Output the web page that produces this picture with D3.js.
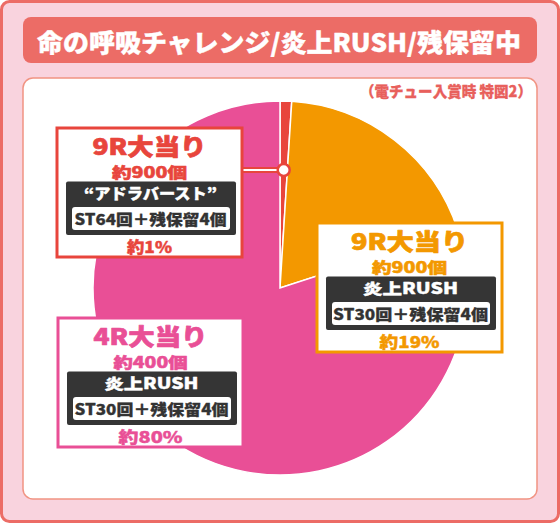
<!DOCTYPE html>
<html>
<head>
<meta charset="utf-8">
<script src="https://cdn.jsdelivr.net/npm/d3@7"></script>
<style>
  html, body { margin: 0; padding: 0; background: #fff; }
  svg { display: block; }
  text { font-family: "Noto Sans CJK JP", "Noto Sans", sans-serif; font-weight: 900; }
</style>
</head>
<body>
<svg id="chart" width="560" height="523"></svg>
<script>
// ---- data ----
const chartTitle = "命の呼吸チャレンジ/炎上RUSH/残保留中";
const chartSubtitle = "（電チュー入賞時 特図2）";
const categories = ["9R大当り", "9R大当り", "4R大当り"];
const shares = [1, 19, 80];
const payouts = ["約900個", "約900個", "約400個"];
const modes = ["“アドラバースト”", "炎上RUSH", "炎上RUSH"];
const stLabels = ["ST64回＋残保留4個", "ST30回＋残保留4個", "ST30回＋残保留4個"];
const colors = ["#e8453c", "#f39800", "#e94f96"];

// ---- layout (not data) ----
const W = 560, H = 523;
const cx = 280, cy = 288, R = 187;
const boxes = [
  { x: 57, y: 128, w: { title: 114, pay: 75, mode: 133, st: 152, pct: 45 } },
  { x: 317, y: 223, w: { title: 117, pay: 75, mode: 95, st: 155, pct: 60 } },
  { x: 58, y: 318, w: { title: 114, pay: 74, mode: 94, st: 154, pct: 64 } }
];
const boxW = 185, boxH = 129;

const svg = d3.select("#chart");

function label(sel, x, y, size, fill, str, len, strokeW) {
  const t = sel.append("text").attr("x", x).attr("y", y).attr("text-anchor", "middle")
    .attr("font-size", size).attr("fill", fill).text(str);
  if (len) t.attr("textLength", len).attr("lengthAdjust", "spacingAndGlyphs");
  if (strokeW) t.attr("stroke", fill).attr("stroke-width", strokeW).attr("stroke-linejoin", "round");
  return t;
}

// outer frame
svg.append("rect").attr("x", 1.5).attr("y", 1.5).attr("width", W - 3).attr("height", H - 3)
  .attr("rx", 8).attr("fill", "#f9d3de").attr("stroke", "#ec6c66").attr("stroke-width", 3);

// title bar
svg.append("rect").attr("x", 23).attr("y", 17).attr("width", 514).attr("height", 46)
  .attr("rx", 8).attr("fill", "#ec6c66");
label(svg, 279, 52, 25, "#fff", chartTitle, 484, 0.4);

// inner panel
svg.append("rect").attr("x", 23).attr("y", 78).attr("width", 514).attr("height", 421)
  .attr("rx", 10).attr("fill", "#fff").attr("stroke", "#f19483").attr("stroke-width", 1.5);

label(svg, 446, 97, 15, "#e8605c", chartSubtitle, 172, 0.3);

// pie
const pie = d3.pie().sort(null).value(d => d)(shares);
const arc = d3.arc().innerRadius(0).outerRadius(R);
const g = svg.append("g").attr("transform", `translate(${cx},${cy})`);
g.selectAll("path").data(pie).join("path")
  .attr("d", arc)
  .attr("fill", (d, i) => colors[i])
  .attr("stroke", "#fff").attr("stroke-width", 1.5);

// connector for the small slice
const small = pie[0];
const midA = (small.startAngle + small.endAngle) / 2;
const connY = 170;
const connX = cx + (cy - connY) * Math.tan(midA);
svg.append("line").attr("x1", boxes[0].x + boxW).attr("y1", connY).attr("x2", connX).attr("y2", connY)
  .attr("stroke", colors[0]).attr("stroke-width", 6);
svg.append("line").attr("x1", boxes[0].x + boxW).attr("y1", connY).attr("x2", connX).attr("y2", connY)
  .attr("stroke", "#fff").attr("stroke-width", 2);
svg.append("circle").attr("cx", connX).attr("cy", connY).attr("r", 6)
  .attr("fill", "#fff").attr("stroke", colors[0]).attr("stroke-width", 2.5);

// label boxes
boxes.forEach((b, i) => {
  const gb = svg.append("g").attr("transform", `translate(${b.x},${b.y})`);
  const mid = boxW / 2;
  gb.append("rect").attr("x", 0).attr("y", 0).attr("width", boxW).attr("height", boxH)
    .attr("fill", "#fff").attr("stroke", colors[i]).attr("stroke-width", 3);
  label(gb, mid, 26.5, 23, colors[i], categories[i], b.w.title, 0.7);
  label(gb, mid, 50.3, 15, colors[i], payouts[i], b.w.pay, 0.5);
  gb.append("rect").attr("x", 9).attr("y", 53.5).attr("width", 170).attr("height", 53.5)
    .attr("rx", 2).attr("fill", "#353535");
  label(gb, mid + 1, 71, 15, "#fff", modes[i], b.w.mode, 0.4);
  gb.append("rect").attr("x", 15).attr("y", 79).attr("width", 158).attr("height", 23)
    .attr("rx", 3).attr("fill", "#fff");
  label(gb, mid + 1, 97, 15, "#333", stLabels[i], b.w.st, 0.3);
  label(gb, mid, 125, 16, colors[i], "約" + shares[i] + "%", b.w.pct, 0.4);
});
</script>
</body>
</html>
